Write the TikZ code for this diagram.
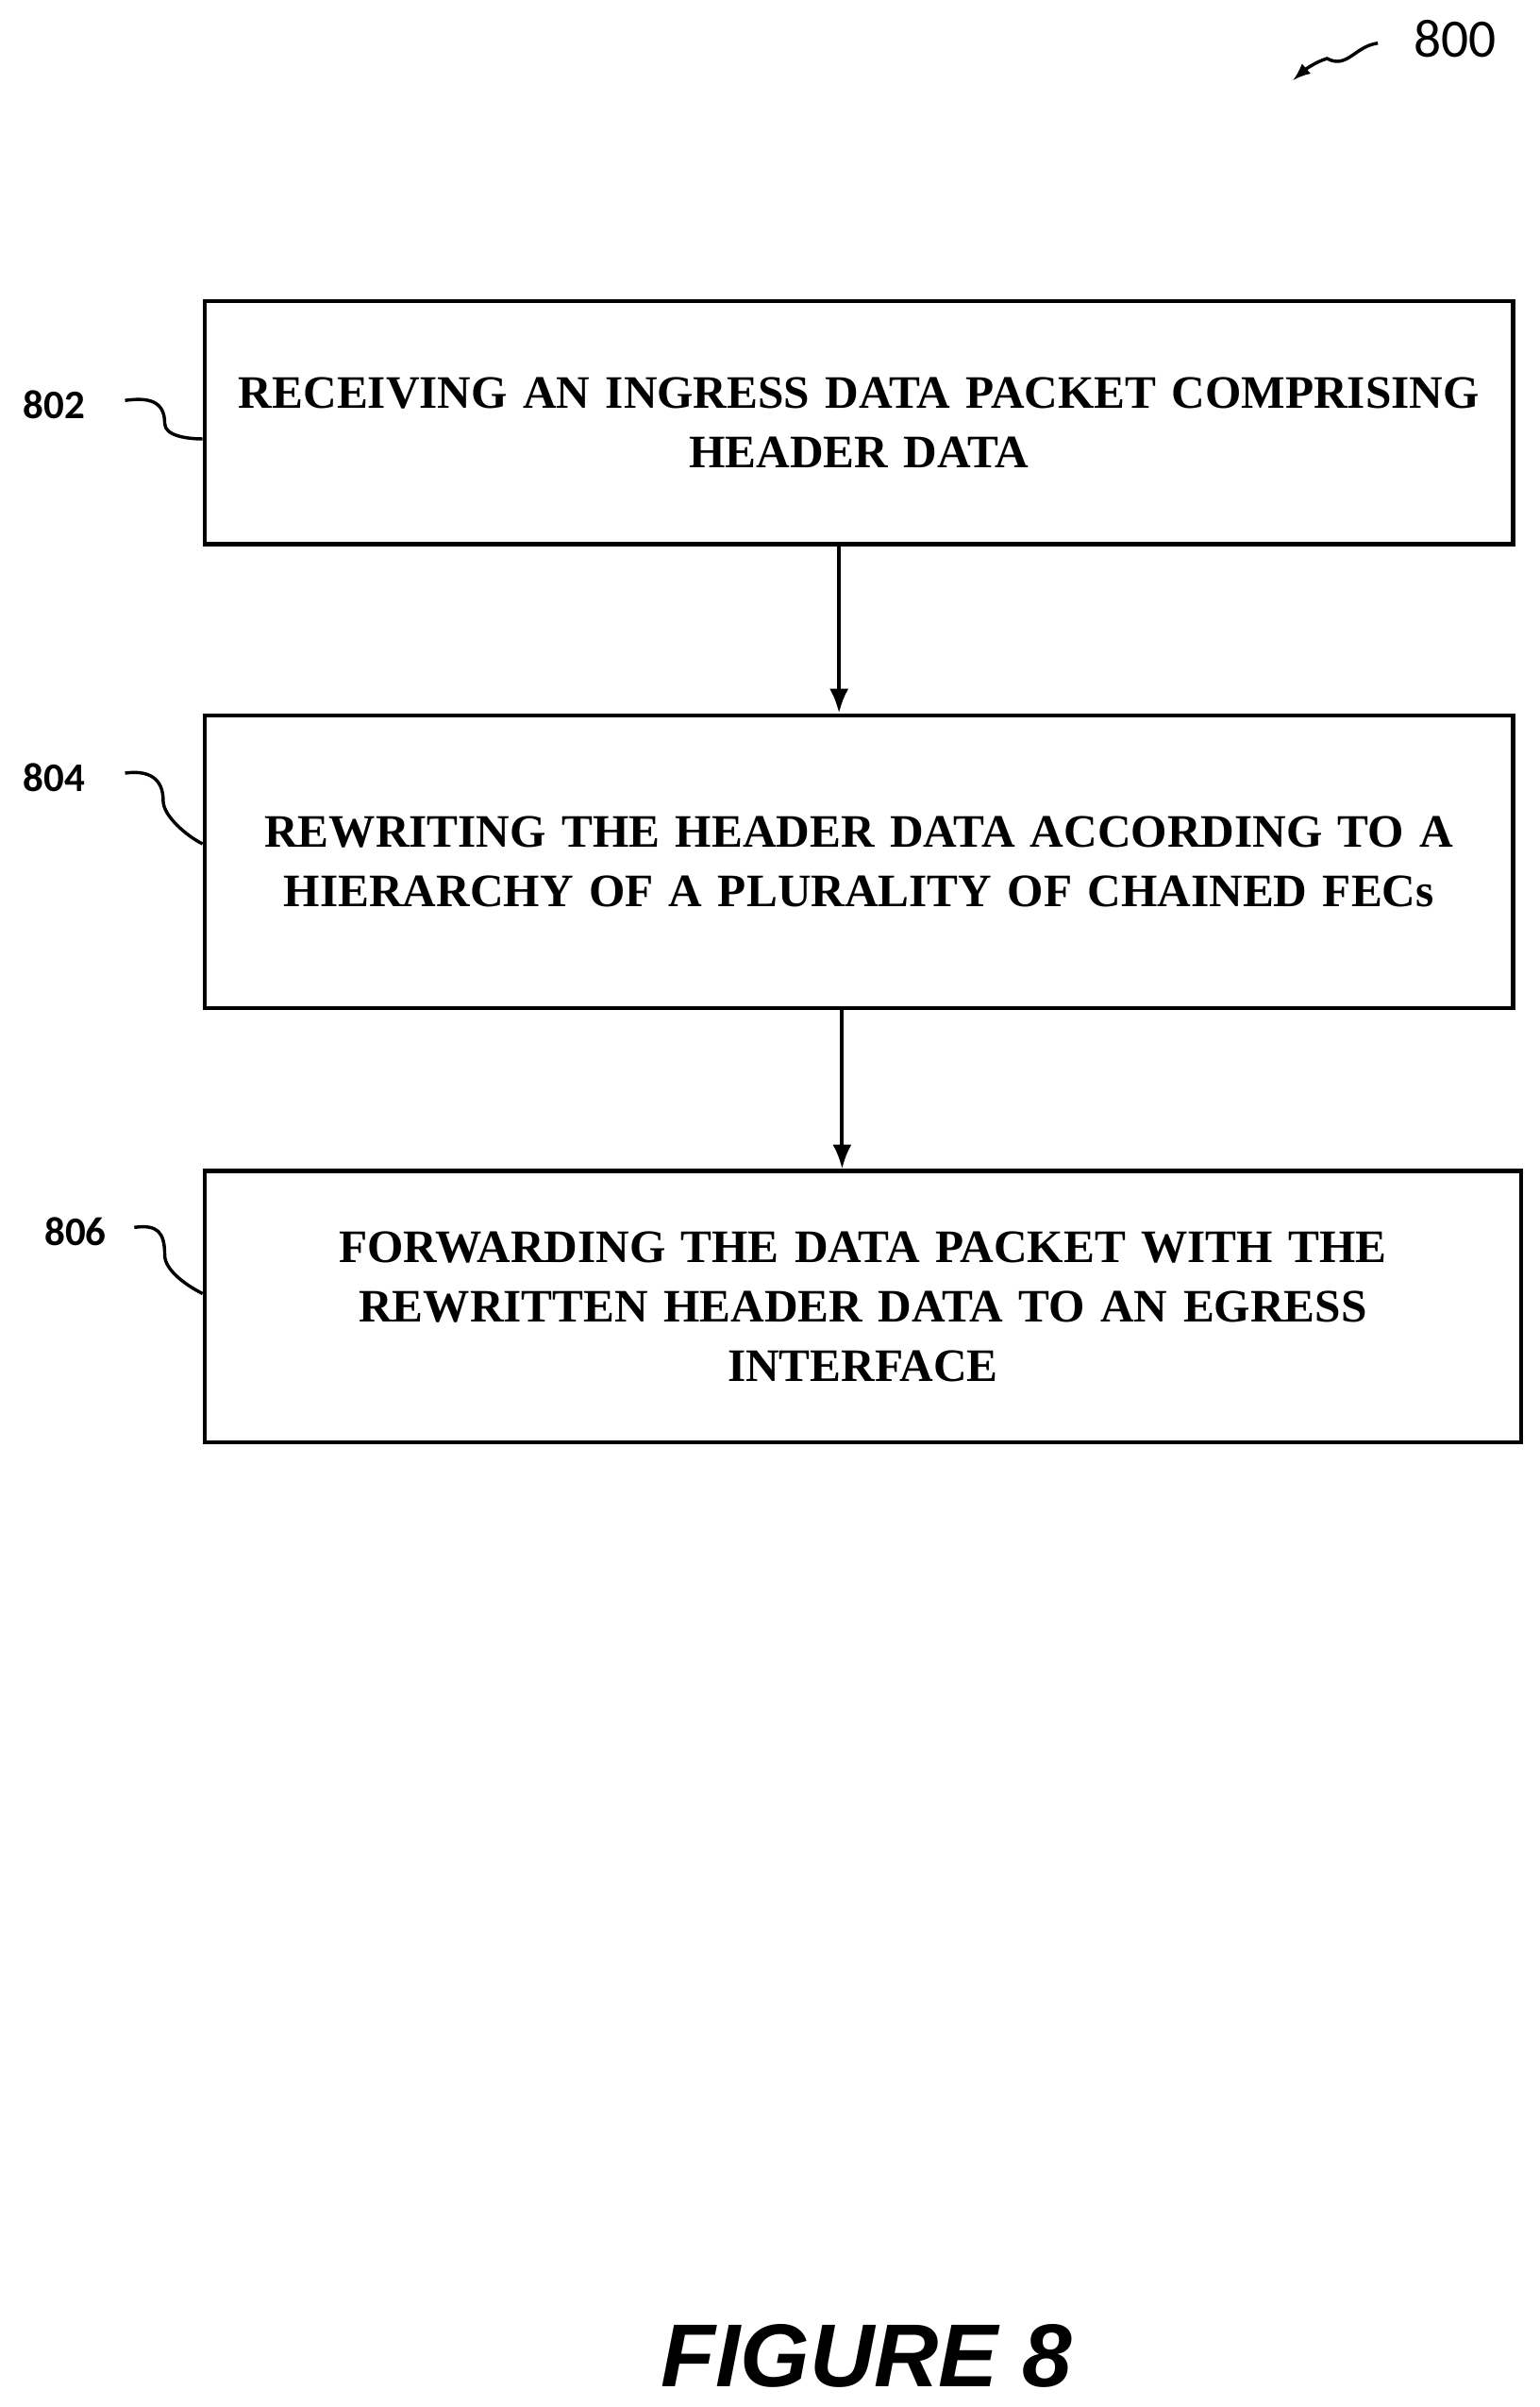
\documentclass[tikz,border=0pt]{standalone}
\usepackage{fontspec}
\setmainfont{Liberation Serif}
\newfontfamily\labelfont{Carlito}
\newfontfamily\figfont{Liberation Sans}
\usetikzlibrary{positioning,arrows.meta}
\begin{document}
\begin{tikzpicture}[x=0.02cm,y=-0.02cm]
    % Styles
    \tikzset{step box/.style={draw,line width=1.6pt,inner sep=0pt,
        text width=16.6cm,align=center,font=\fontsize{17.2}{22}\selectfont\bfseries}}
    \tikzset{step label/.style={font=\labelfont\fontsize{15}{16}\selectfont\bfseries}}
    \tikzset{flow arrow/.style={-{Latex[length=9pt,width=7pt]},line width=1.4pt}}
    \tikzset{lead line/.style={line width=1.2pt}}

    \useasboundingbox (0,0) rectangle (1000,1563);

    %%% Steps
    \node[step box,minimum width=850*0.02cm,minimum height=158*0.02cm] (s802) at (558,274.5)
        {RECEIVING AN INGRESS DATA PACKET COMPRISING\\HEADER DATA};
    \node[step box,minimum width=850*0.02cm,minimum height=190*0.02cm] (s804) at (558,559.5)
        {REWRITING THE HEADER DATA ACCORDING TO A\\HIERARCHY OF A PLURALITY OF CHAINED FECs};
    \node[step box,minimum width=855*0.02cm,minimum height=176*0.02cm] (s806) at (560.5,848.5)
        {FORWARDING THE DATA PACKET WITH THE\\REWRITTEN HEADER DATA TO AN EGRESS\\INTERFACE};

    \draw[flow arrow] (s802.south -| 545,0) -- (s804.north -| 545,0);
    \draw[flow arrow] (s804.south -| 547,0) -- (s806.north -| 547,0);

    %%% Reference labels
    \node[step label] (l802) at (35,263) {802};
    \node[step label] (l804) at (35,505) {804};
    \node[step label] (l806) at (49,800) {806};
    \draw[lead line] (l802.east) ++(20,-3) .. controls +(15,-2) and +(0,-15) .. (107,275)
        .. controls +(0,8) and +(-10,0) .. (s802.west |- 0,285);
    \draw[lead line] (l804.east) ++(20,-3) .. controls +(15,-2) and +(0,-15) .. (106,520)
        .. controls +(0,10) and +(-10,-5) .. (s804.west |- 0,548);
    \draw[lead line] (l806.east) ++(12,-3) .. controls +(15,-2) and +(0,-15) .. (107,815)
        .. controls +(0,10) and +(-10,-5) .. (s806.west |- 0,840);

    %%% Figure number
    \node[font=\labelfont\fontsize{20}{24}\selectfont] (n800) at (945,25) {800};
    \draw[lead line,-latex] (895,28) .. controls (880,30) and (875,45) .. (862,38)
        .. controls (855,40) and (848,45) .. (840,52);

    \node[font=\figfont\fontsize{33}{36}\selectfont\bfseries\itshape] (fig) at (563,1530) {FIGURE 8};
\end{tikzpicture}
\end{document}
